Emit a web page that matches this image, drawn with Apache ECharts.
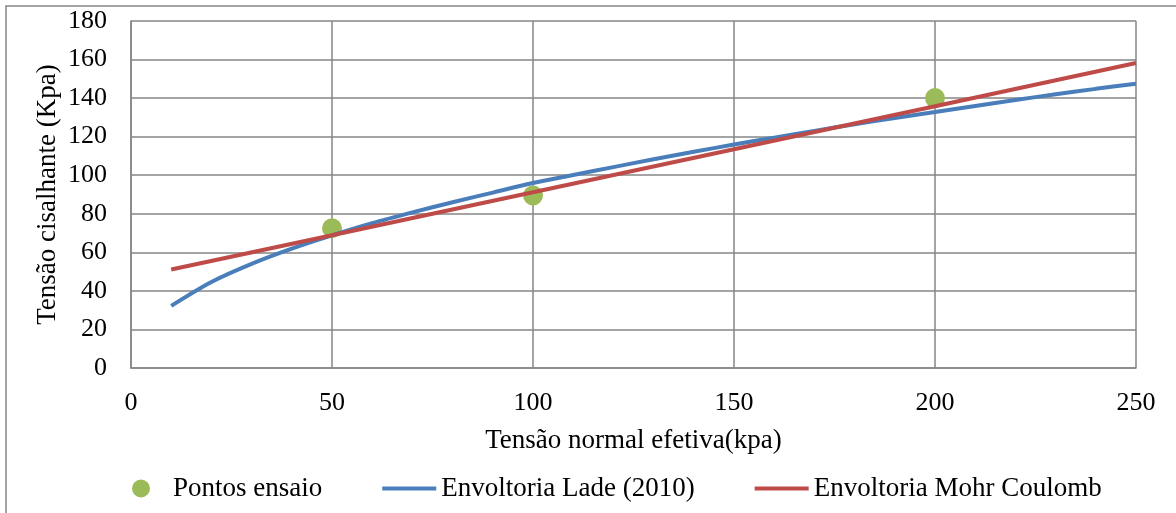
<!DOCTYPE html>
<html>
<head>
<meta charset="utf-8">
<style>
  html, body { margin: 0; padding: 0; background: #fff; }
  #chart { width: 1176px; height: 513px; }
</style>
<script src="https://cdn.jsdelivr.net/npm/echarts@6/dist/echarts.min.js"></script>
</head>
<body>
<div id="chart"></div>
<script>
// Ensaio de cisalhamento: pontos medidos e duas envoltórias de ruptura
const xTitle = 'Tensão normal efetiva(kpa)';
const yTitle = 'Tensão cisalhante (Kpa)';

const seriesNames = ['Pontos ensaio', 'Envoltoria Lade (2010)', 'Envoltoria Mohr Coulomb'];

// Pontos ensaio (tensão normal, tensão cisalhante)
const ensaioX = [50, 100, 200];
const ensaioY = [72.5, 89.5, 140];

// Envoltoria Lade (2010)
const ladeX = [10, 20, 30, 40, 50, 60, 70, 80, 90, 100, 110, 120, 130,
               140, 150, 160, 170, 180, 190, 200, 210, 220, 230, 240, 250];
const ladeY = [32.2, 44.6, 54.0, 61.9, 68.8, 75.1, 80.7, 86.0, 91.0, 96.0, 100.1, 104.2, 108.3,
               112.2, 115.9, 119.5, 123.0, 126.4, 129.7, 132.8, 135.9, 139.0, 142.0, 144.8, 147.5];

// Envoltoria Mohr Coulomb
const mohrX = [10, 50, 100, 150, 200, 250];
const mohrY = [51.1, 68.9, 91.2, 113.5, 135.8, 158.2];

const pairs = (xs, ys) => xs.map((x, i) => [x, ys[i]]);

const FONT = 'Liberation Serif';
const GRID_COLOR = '#868686';
const BLUE = '#4a7ebb';
const RED = '#be4b48';
const GREEN = '#9bbb59';
const LINE_ICON = 'path://M0,0H54V4H0Z';

const chart = echarts.init(document.getElementById('chart'), null, { renderer: 'canvas' });

chart.setOption({
  backgroundColor: '#fff',
  animation: false,
  textStyle: { fontFamily: FONT, color: '#000' },
  graphic: [{
    type: 'rect',
    shape: { x: 6, y: 6, width: 1300, height: 700 },
    style: { fill: 'none', stroke: GRID_COLOR, lineWidth: 1.5 },
    silent: true,
    z: -10
  }],
  grid: { left: 131, top: 21, right: 40, bottom: 145, containLabel: false },
  xAxis: {
    type: 'value',
    min: 0, max: 250, interval: 50,
    name: xTitle,
    nameLocation: 'middle',
    nameGap: 59,
    nameMoveOverlap: false,
    nameTextStyle: { fontFamily: FONT, fontSize: 27, color: '#000' },
    axisLine: { show: true, lineStyle: { color: GRID_COLOR, width: 1.5 } },
    axisTick: { show: false },
    axisLabel: { fontFamily: FONT, fontSize: 26, color: '#000', margin: 22 },
    splitLine: { show: true, lineStyle: { color: GRID_COLOR, width: 1.5 } }
  },
  yAxis: {
    type: 'value',
    min: 0, max: 180, interval: 20,
    name: yTitle,
    nameLocation: 'middle',
    nameGap: 70,
    nameMoveOverlap: false,
    nameTextStyle: { fontFamily: FONT, fontSize: 27, color: '#000' },
    axisLine: { show: true, lineStyle: { color: GRID_COLOR, width: 1.5 } },
    axisTick: { show: false },
    axisLabel: { fontFamily: FONT, fontSize: 26, color: '#000', margin: 24 },
    splitLine: { show: true, lineStyle: { color: GRID_COLOR, width: 1.5 } }
  },
  legend: {
    bottom: 11,
    left: 132,
    padding: 0,
    itemWidth: 54,
    itemHeight: 18,
    itemGap: 60,
    symbolKeepAspect: true,
    textStyle: { fontFamily: FONT, fontSize: 27, color: '#000' },
    data: [
      { name: seriesNames[0], icon: 'circle' },
      { name: seriesNames[1], icon: LINE_ICON },
      { name: seriesNames[2], icon: LINE_ICON }
    ]
  },
  series: [
    {
      name: seriesNames[1],
      type: 'line',
      data: pairs(ladeX, ladeY),
      symbol: 'none',
      smooth: 0.3,
      lineStyle: { color: BLUE, width: 4 },
      itemStyle: { color: BLUE },
      z: 2
    },
    {
      name: seriesNames[2],
      type: 'line',
      data: pairs(mohrX, mohrY),
      symbol: 'none',
      lineStyle: { color: RED, width: 4 },
      itemStyle: { color: RED },
      z: 3
    },
    {
      name: seriesNames[0],
      type: 'scatter',
      data: pairs(ensaioX, ensaioY),
      symbol: 'circle',
      symbolSize: 20,
      itemStyle: { color: GREEN, opacity: 1 },
      z: 1
    }
  ]
});
</script>
</body>
</html>
